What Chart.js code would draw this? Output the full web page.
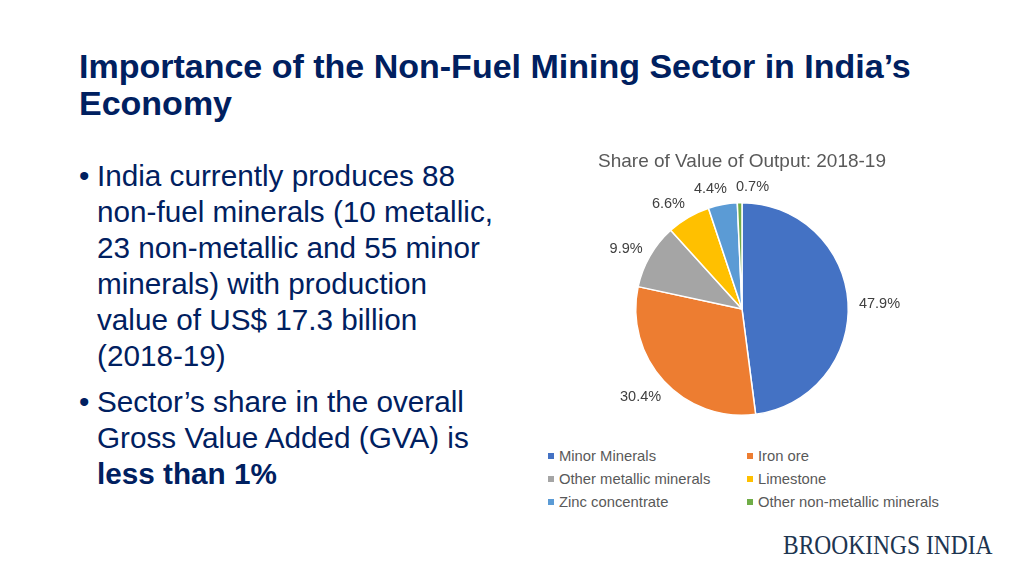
<!DOCTYPE html>
<html>
<head>
<meta charset="utf-8">
<script src="https://cdn.jsdelivr.net/npm/chart.js@4"></script>
<style>
  html, body { margin: 0; padding: 0; background: #fff; }
  body { width: 1024px; height: 576px; position: relative; overflow: hidden; font-family: "Liberation Sans", Arial, sans-serif; }
  #title { position: absolute; left: 79px; top: 48px; font-size: 34px; font-weight: bold; color: #002060; line-height: 37px; white-space: nowrap; }
  #bullets { position: absolute; left: 79px; top: 158px; width: 460px; color: #002060; font-size: 29.7px; line-height: 36px; white-space: nowrap; }
  .para { position: relative; padding-left: 18px; margin-bottom: 10px; }
  .para::before { content: "\2022"; position: absolute; left: 0; top: 0; }
  #chartBox { position: absolute; left: 560px; top: 146px; width: 364px; height: 284px; }
  #legend { position: absolute; left: 548px; top: 447px; width: 440px; font-size: 14.8px; color: #595959; display: grid; grid-template-columns: 199px 240px; row-gap: 6px; }
  .item { display: flex; align-items: center; height: 17px; white-space: nowrap; }
  .item span.sw { width: 6px; height: 6px; margin-right: 5px; display: inline-block; }
  #logo { position: absolute; left: 783px; top: 530px; font-family: "Liberation Serif", "DejaVu Serif", serif; font-size: 27px; color: #1d3550; transform: scaleX(0.87); transform-origin: left top; white-space: nowrap; }
</style>
</head>
<body>
<div id="title">Importance of the Non-Fuel Mining Sector in India’s<br>Economy</div>
<div id="bullets">
  <div class="para">India currently produces 88<br>non-fuel minerals (10 metallic,<br>23 non-metallic and 55 minor<br>minerals) with production<br>value of US$ 17.3 billion<br>(2018-19)</div>
  <div class="para">Sector’s share in the overall<br>Gross Value Added (GVA) is<br><b>less than 1%</b></div>
</div>
<div id="chartBox"><canvas id="pieChart"></canvas></div>
<div id="legend"></div>
<div id="logo">BROOKINGS INDIA</div>

<script>
// Share of value of output, 2018-19 (percent)
const categories = ['Minor Minerals', 'Iron ore', 'Other metallic minerals', 'Limestone', 'Zinc concentrate', 'Other non-metallic minerals'];
const shares = [47.9, 30.4, 9.9, 6.6, 4.4, 0.7];
const colors = ['#4472C4', '#ED7D31', '#A5A5A5', '#FFC000', '#5B9BD5', '#70AD47'];

// Excel-style "outside end" percentage labels
const outsideLabels = {
  id: 'outsideLabels',
  afterDatasetsDraw(chart) {
    const ctx = chart.ctx;
    const arcs = chart.getDatasetMeta(0).data;
    ctx.save();
    ctx.font = '14.5px "Liberation Sans", Arial, sans-serif';
    ctx.fillStyle = '#404040';
    ctx.textAlign = 'center';
    ctx.textBaseline = 'middle';
    const gap = 11;
    const h = 16;
    const minSpace = 9;

    const boxes = arcs.map((arc, i) => {
      const p = arc.getProps(['x', 'y', 'startAngle', 'endAngle', 'outerRadius'], true);
      const mid = (p.startAngle + p.endAngle) / 2;
      const dx = Math.cos(mid), dy = Math.sin(mid);
      const text = shares[i].toFixed(1) + '%';
      const w = ctx.measureText(text).width;
      return {
        text, w,
        x: p.x + dx * (p.outerRadius + gap) + dx * w / 2,
        y: p.y + dy * (p.outerRadius + gap) + dy * h / 2 + 3
      };
    });

    // spread neighbouring labels that overlap (small slices near the top)
    for (let pass = 0; pass < 10; pass++) {
      for (let i = 1; i < boxes.length; i++) {
        const a = boxes[i - 1], b = boxes[i];
        if (Math.abs(a.y - b.y) >= h) continue;
        const need = (a.w + b.w) / 2 + minSpace - (b.x - a.x);
        if (need > 0) { a.x -= need / 2; b.x += need / 2; }
      }
    }

    boxes.forEach(b => ctx.fillText(b.text, b.x, b.y));
    ctx.restore();
  }
};

new Chart(document.getElementById('pieChart'), {
  type: 'pie',
  data: {
    labels: categories,
    datasets: [{
      data: shares,
      backgroundColor: colors,
      borderColor: '#ffffff',
      borderWidth: 1.5
    }]
  },
  options: {
    responsive: true,
    maintainAspectRatio: false,
    animation: false,
    layout: { padding: { top: 0, bottom: 14, left: 0, right: 0 } },
    plugins: {
      legend: { display: false },
      tooltip: { enabled: false },
      title: {
        display: true,
        text: 'Share of Value of Output: 2018-19',
        color: '#595959',
        font: { family: '"Liberation Sans", Arial, sans-serif', size: 19, weight: 'normal' },
        padding: { top: 4, bottom: 29.2 }
      }
    }
  },
  plugins: [outsideLabels]
});

// legend in two columns, built from the same arrays
const legend = document.getElementById('legend');
categories.forEach((name, i) => {
  const item = document.createElement('div');
  item.className = 'item';
  item.innerHTML = `<span class="sw" style="background:${colors[i]}"></span>${name}`;
  legend.appendChild(item);
});
</script>
</body>
</html>
